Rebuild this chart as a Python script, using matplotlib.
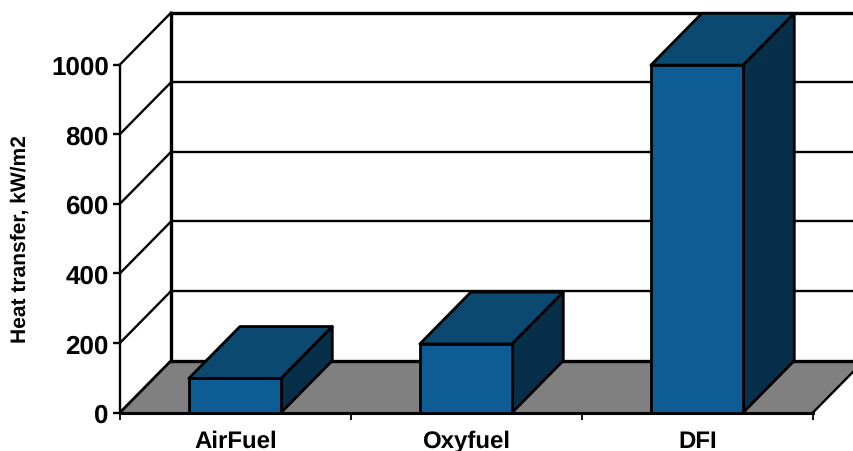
# Heat transfer by burner type, drawn as a 3D-look column chart
import matplotlib
matplotlib.use('Agg')
import matplotlib.pyplot as plt
from matplotlib.patches import Polygon

# Data
categories = ['AirFuel', 'Oxyfuel', 'DFI']
heat_transfer = [98, 197, 998]
y_ticks = [0, 200, 400, 600, 800, 1000]

# Depth of the 3D box, in data units
DX = 0.221
DY = 149
BAR_W = 0.4

FRONT = '#0D5C94'
TOP = '#0C4970'
SIDE = '#082F49'
FLOOR = '#808080'

plt.rcParams['font.family'] = ['Liberation Sans', 'DejaVu Sans']
plt.rcParams['font.weight'] = 'bold'
plt.rcParams['text.hinting'] = 'no_hinting'
plt.rcParams['text.hinting_factor'] = 1

fig = plt.figure(figsize=(8.54, 4.52), dpi=100)
ax = fig.add_axes([120 / 854, 38.5 / 452, 693 / 854, 348 / 452])
ax.set_xlim(0, len(categories))
ax.set_ylim(0, 1000)
for s in ax.spines.values():
    s.set_visible(False)

right = len(categories)

# Floor
ax.add_patch(Polygon([(0, 0), (DX, DY), (right + DX, DY), (right, 0)],
                     closed=True, fc=FLOOR, ec='none', clip_on=False, zorder=1))

# Back wall gridlines and the slanted lines on the side wall
for t in y_ticks:
    lw = 2.4 if t in (0, 1000) else 1.7
    ax.plot([DX, right + DX], [t + DY, t + DY], color='k', lw=lw, clip_on=False,
            solid_capstyle='butt', zorder=2)
    if t > 0:
        ax.plot([0, DX], [t, t + DY], color='k', lw=1.7, clip_on=False, zorder=2)
ax.plot([0, DX], [0, DY], color='k', lw=2.0, clip_on=False, zorder=2)
ax.plot([right, right + DX], [0, DY], color='k', lw=1.7, clip_on=False, zorder=2)

# Wall edges and front axes
ax.plot([DX, DX], [DY, 1000 + DY], color='k', lw=2.4, clip_on=False, zorder=2)
ax.plot([0, 0], [0, 1000], color='k', lw=1.7, clip_on=False, zorder=2)
ax.plot([0, right], [0, 0], color='k', lw=2.2, clip_on=False, zorder=2)

# Columns
for i, v in enumerate(heat_transfer):
    x0 = i + 0.5 - BAR_W / 2 - 0.002
    x1 = x0 + BAR_W
    ax.add_patch(Polygon([(x0, v), (x0 + DX, v + DY), (x1 + DX, v + DY), (x1, v)],
                         closed=True, fc=TOP, ec='k', lw=2.0, clip_on=False, zorder=3,
                         joinstyle='round'))
    ax.add_patch(Polygon([(x1, 0), (x1 + DX, DY), (x1 + DX, v + DY), (x1, v)],
                         closed=True, fc=SIDE, ec='k', lw=2.0, clip_on=False, zorder=3,
                         joinstyle='round'))
    ax.bar(i + 0.5 - 0.002, v, width=BAR_W, color=FRONT, edgecolor='k', lw=2.0, zorder=4,
           clip_on=False)

# Axis ticks and labels
ax.set_yticks(y_ticks)
ax.set_xticks(range(right + 1))
ax.set_xticklabels([])
ax.tick_params(axis='y', length=5, width=1.7, pad=3, labelsize=18.5)
ax.tick_params(axis='x', length=5, width=1.3)
for i, c in enumerate(categories):
    ax.annotate(c, (i + 0.5, 0), xytext=(0, -12.5), textcoords='offset points',
                ha='center', va='top', fontsize=17.2, annotation_clip=False)
ax.set_ylabel('Heat transfer, kW/m2', fontsize=15.2, fontweight='bold', labelpad=15)

fig.savefig('out.png', dpi=100)
